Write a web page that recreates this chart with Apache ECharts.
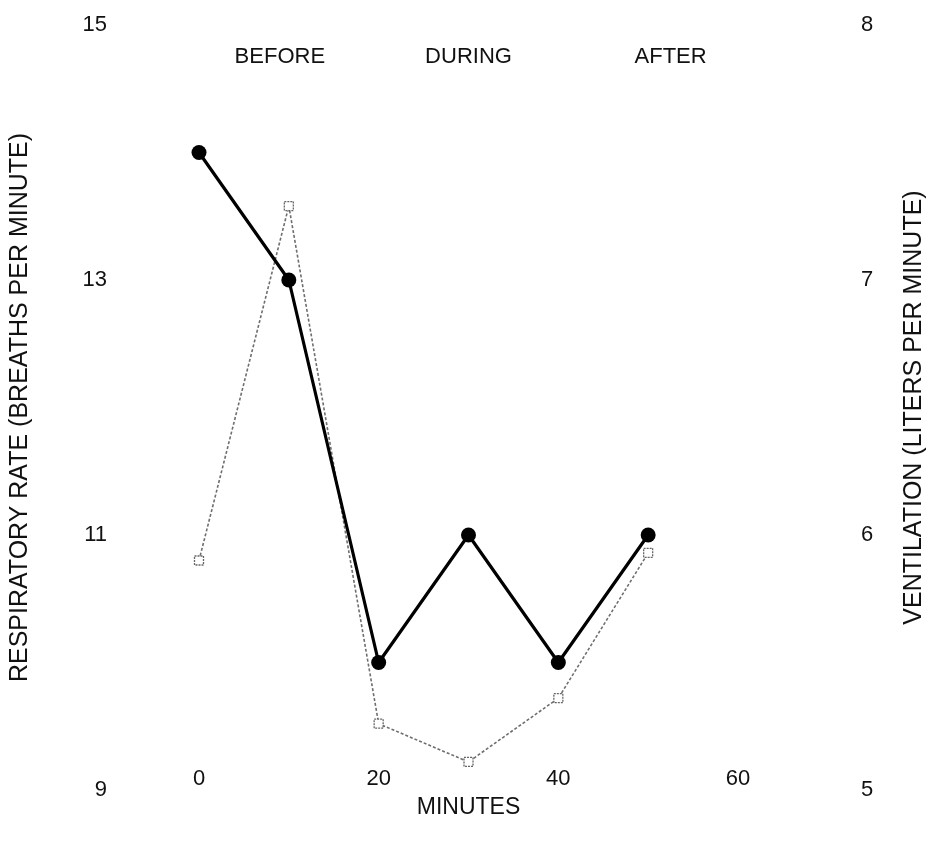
<!DOCTYPE html>
<html>
<head>
<meta charset="utf-8">
<script src="https://cdn.jsdelivr.net/npm/echarts@6/dist/echarts.min.js"></script>
<style>
  html, body { margin: 0; padding: 0; background: #fff; }
  #chart { width: 935px; height: 842px; }
</style>
</head>
<body>
<div id="chart"></div>
<script>
// Sampling times (minutes) and measurements
const minutes = [0, 10, 20, 30, 40, 50];
const respiratoryRate = [14, 13, 10, 11, 10, 11];          // breaths per minute (left axis)
const ventilation = [5.9, 7.29, 5.26, 5.11, 5.36, 5.93];   // liters per minute (right axis)

// Phase headings written across the top of the plot
const phaseNames = ['BEFORE', 'DURING', 'AFTER'];
const phaseCenters = [9, 30, 52.5];
const phaseLevel = 14.75;

const xTicks = [0, 20, 40, 60];

const font = '"Liberation Sans", Arial, Helvetica, sans-serif';
const ink = '#111';

const chart = echarts.init(document.getElementById('chart'));

chart.setOption({
  animation: false,
  backgroundColor: '#ffffff',
  grid: { left: 195, right: 193, top: 25, bottom: 52 },
  xAxis: {
    type: 'value',
    min: 0,
    max: 60,
    interval: 20,
    offset: -22,
    axisLine: { show: false },
    axisTick: { show: false },
    splitLine: { show: false },
    axisLabel: {
      color: ink, fontFamily: font, fontSize: 22, margin: 0,
      formatter: v => (xTicks.includes(v) ? String(v) : '')
    },
    name: 'MINUTES',
    nameLocation: 'middle',
    nameGap: 28,
    nameTextStyle: { color: ink, fontFamily: font, fontSize: 23 }
  },
  yAxis: [
    {
      type: 'value',
      position: 'left',
      min: 9,
      max: 15,
      interval: 2,
      axisLine: { show: false },
      axisTick: { show: false },
      splitLine: { show: false },
      axisLabel: { color: ink, fontFamily: font, fontSize: 22, margin: 92 },
      name: 'RESPIRATORY RATE (BREATHS PER MINUTE)',
      nameLocation: 'middle',
      nameRotate: 90,
      nameGap: 166,
      nameTextStyle: { color: ink, fontFamily: font, fontSize: 25 }
    },
    {
      type: 'value',
      position: 'right',
      min: 5,
      max: 8,
      interval: 1,
      axisLine: { show: false },
      axisTick: { show: false },
      splitLine: { show: false },
      axisLabel: { color: ink, fontFamily: font, fontSize: 22, margin: 123 },
      name: 'VENTILATION (LITERS PER MINUTE)',
      nameLocation: 'middle',
      nameRotate: 90,
      nameGap: 164,
      nameTextStyle: { color: ink, fontFamily: font, fontSize: 25 }
    }
  ],
  series: [
    {
      name: 'Ventilation',
      type: 'line',
      yAxisIndex: 1,
      data: minutes.map((m, i) => [m, ventilation[i]]),
      symbol: 'rect',
      symbolSize: 9,
      showSymbol: true,
      lineStyle: { color: '#6e6e6e', width: 1.6, type: [3, 2] },
      itemStyle: { color: '#ffffff', borderColor: '#666', borderWidth: 1.3, borderType: [2, 1] },
      z: 2
    },
    {
      name: 'Respiratory rate',
      type: 'line',
      yAxisIndex: 0,
      data: minutes.map((m, i) => [m, respiratoryRate[i]]),
      symbol: 'circle',
      symbolSize: 15,
      lineStyle: { color: '#000', width: 3.2 },
      itemStyle: { color: '#000' },
      z: 3
    },
    {
      name: 'Phases',
      type: 'scatter',
      yAxisIndex: 0,
      data: phaseCenters.map((x, i) => ({ value: [x, phaseLevel], name: phaseNames[i] })),
      symbolSize: 0,
      itemStyle: { opacity: 1 },
      label: {
        show: true,
        position: 'inside',
        formatter: p => p.name,
        color: ink,
        fontFamily: font,
        fontSize: 22
      },
      silent: true
    }
  ]
});
</script>
</body>
</html>
